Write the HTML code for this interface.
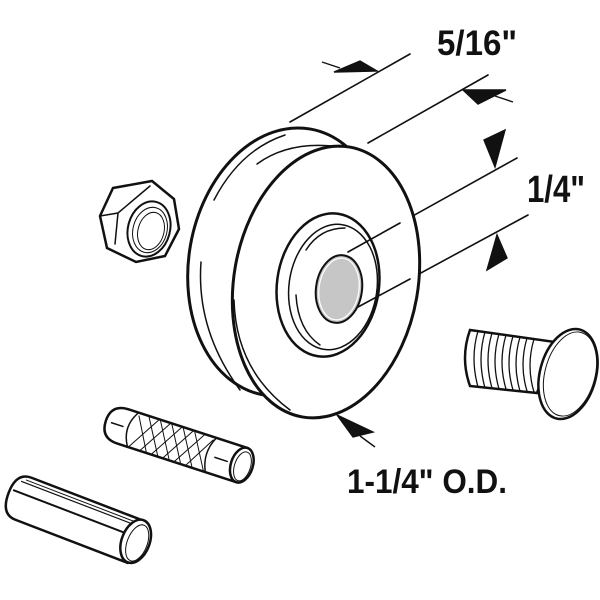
<!DOCTYPE html>
<html><head><meta charset="utf-8"><style>
html,body{margin:0;padding:0;background:#fff;}
svg{display:block;}
text{font-family:"Liberation Sans",sans-serif;font-weight:bold;fill:#111;}
</style></head><body>
<svg width="600" height="600" viewBox="0 0 600 600" xmlns="http://www.w3.org/2000/svg">
<g fill="none" stroke="#111" stroke-linecap="round">
<line x1="290" y1="122" x2="410" y2="54" stroke-width="1.6"/>
<line x1="368" y1="143" x2="488" y2="75" stroke-width="1.6"/>
<line x1="348" y1="252" x2="517" y2="158" stroke-width="1.6"/>
<line x1="358" y1="307" x2="528" y2="215" stroke-width="1.6"/>
<ellipse cx="287" cy="262" rx="98" ry="135" transform="rotate(10 287 262)" fill="#fff" stroke-width="3"/>
<path d="M214 200 Q240 150 285 135" stroke-width="1.5"/>
<path d="M201 262 Q196 330 240 390" stroke-width="1.5"/>
<path d="M246 250 Q262 180 330 152" stroke-width="1.5"/>
<path d="M246 280 Q244 350 280 405" stroke-width="1.5"/>
<ellipse cx="326" cy="282" rx="92" ry="137" transform="rotate(10 326 282)" fill="#fff" stroke-width="3"/>
<path d="M257 164 Q290 140 340 147" stroke-width="1.5"/>
<path d="M234 300 Q236 370 290 410" stroke-width="1.5"/>
<ellipse cx="328" cy="285" rx="51" ry="72" transform="rotate(8 328 285)" stroke-width="2.5"/>
<ellipse cx="333" cy="287" rx="44" ry="63" transform="rotate(8 333 287)" stroke-width="1.5"/>
<path d="M306 250 Q320 228 345 228" stroke-width="1.5"/>
<path d="M296 295 Q298 330 320 345" stroke-width="1.5"/>
<ellipse cx="339" cy="289" rx="23" ry="34" transform="rotate(8 339 289)" fill="#c6c6c6" stroke-width="2"/>
<ellipse cx="339" cy="289" rx="20" ry="31" transform="rotate(8 339 289)" stroke="#fff" stroke-width="1.2"/>
<line x1="348" y1="252" x2="400" y2="223" stroke-width="1.6"/>
<line x1="358" y1="307" x2="410" y2="279" stroke-width="1.6"/>
<polygon points="113,188 152,181 174,199 179,229 165,256 136,262 107,248 100,216" fill="#fff" stroke-width="2.5"/>
<polyline points="100,216 118,213 150,186" stroke-width="1.5"/>
<line x1="118" y1="213" x2="115" y2="244" stroke-width="1.5"/>
<ellipse cx="149" cy="229" rx="21" ry="28" transform="rotate(15 149 229)" stroke-width="2"/>
<ellipse cx="150" cy="230" rx="17" ry="23" transform="rotate(15 150 230)" stroke-width="1"/>
<ellipse cx="151" cy="231" rx="13" ry="19" transform="rotate(15 151 231)" stroke-width="1"/>
<path d="M470 330 L555 342 L537 393 L470 386 Q460 358 470 330 Z" fill="#fff" stroke-width="2.5"/>
<g stroke-width="1.3">
<path d="M478 331 Q470 358 478 387"/><path d="M485 332 Q477 359 485 388"/><path d="M492 333 Q484 360 492 388"/>
<path d="M499 334 Q491 361 499 389"/><path d="M506 335 Q498 362 506 389"/><path d="M513 336 Q505 363 513 390"/>
<path d="M520 337 Q512 364 520 391"/><path d="M527 338 Q519 365 527 391"/><path d="M534 339 Q526 366 534 392"/>
</g>
<ellipse cx="568" cy="374" rx="28" ry="46" transform="rotate(15 568 374)" fill="#fff" stroke-width="2.5"/>
<ellipse cx="570" cy="374" rx="25" ry="43" transform="rotate(15 570 374)" stroke-width="1"/>
<g transform="rotate(18 180 445)">
<path d="M120 427 L245 427 L245 463 L120 463 Q102 463 102 445 Q102 427 120 427 Z" fill="#fff" stroke-width="2.5"/>
<line x1="108" y1="445" x2="120" y2="445" stroke-width="1.5"/>
<line x1="217" y1="446" x2="230" y2="446" stroke-width="1.5"/>
<path d="M130 428 Q120 445 130 462" stroke-width="1.5"/>
<path d="M212 428 Q204 445 212 462" stroke-width="1.5"/>
<g stroke-width="1">
<path d="M132 462 L152 428 M144 462 L164 428 M156 462 L176 428 M168 462 L188 428 M180 462 L200 428 M192 462 L210 430"/>
<path d="M132 430 L150 462 M142 428 L162 462 M154 428 L174 462 M166 428 L186 462 M178 428 L198 462 M190 428 L210 462"/>
</g>
<ellipse cx="245" cy="445" rx="11" ry="18" fill="#fff" stroke-width="2.5"/>
<ellipse cx="246" cy="446" rx="8" ry="15" stroke-width="1"/>
</g>
<g transform="rotate(21 75 518)">
<path d="M20 496 L140 496 L140 541 L20 541 Q4 541 4 518 Q4 496 20 496 Z" fill="#fff" stroke-width="2.5"/>
<line x1="12" y1="503" x2="135" y2="503" stroke-width="1.2"/>
<line x1="16" y1="500" x2="137" y2="500" stroke-width="1"/>
<line x1="8" y1="514" x2="133" y2="514" stroke-width="2"/>
<ellipse cx="140" cy="518" rx="14" ry="22.5" fill="#fff" stroke-width="2.5"/>
<ellipse cx="142" cy="519" rx="10" ry="19" stroke-width="1"/>
</g>
</g>
<g fill="#111" stroke="#111" stroke-width="1.4">
<polygon points="334,72 360,61 377,71"/><line x1="322" y1="62" x2="340" y2="68"/>
<polygon points="463,90 506,90 478,104"/><line x1="495" y1="96" x2="513" y2="102"/>
<polygon points="484,140 505,130 495,167"/>
<polygon points="497,235 487,270 507,258"/>
<polygon points="337,415 373,432 353,437"/><line x1="360" y1="436" x2="375" y2="447"/>
</g>
<text x="437" y="55" font-size="35" textLength="80" lengthAdjust="spacingAndGlyphs">5/16"</text>
<text x="527" y="202" font-size="38" textLength="58" lengthAdjust="spacingAndGlyphs">1/4"</text>
<text x="347" y="493" font-size="34" textLength="160" lengthAdjust="spacingAndGlyphs">1-1/4" O.D.</text>
</svg>
</body></html>
